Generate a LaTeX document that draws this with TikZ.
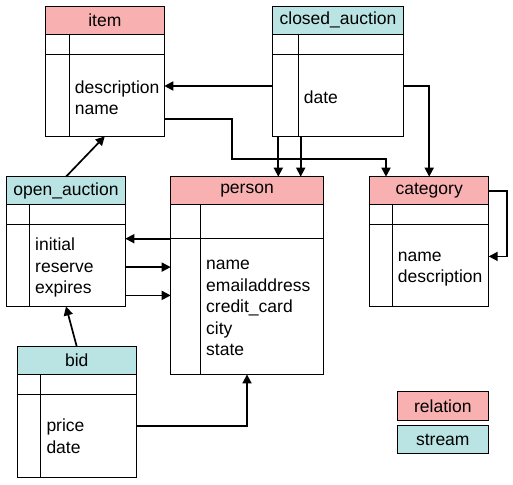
\documentclass[tikz,border=0pt]{standalone}
\usepackage{fontspec}
\setmainfont{Liberation Sans}
\usetikzlibrary{positioning,arrows.meta}

\definecolor{relfill}{RGB}{248,176,176}
\definecolor{strfill}{RGB}{186,228,228}
\newcommand{\tablefont}{\fontsize{17.5}{21.6}\selectfont}

\tikzset{
  head/.style={draw, line width=1pt, minimum height=28pt, inner sep=0pt, outer sep=0pt, anchor=north west, font=\tablefont},
  body/.style={draw, line width=1pt, inner sep=0pt, outer sep=0pt},
  fields/.style={anchor=west, align=left, inner sep=0pt, font=\tablefont},
  link/.style={line width=1.7pt, -{Triangle[length=9pt,width=9pt]}},
  legend/.style={draw, line width=1pt, minimum width=91pt, minimum height=28.6pt, inner sep=0pt, outer sep=0pt, font=\tablefont}
}

\begin{document}
\begin{tikzpicture}[x=1pt,y=-1pt,line width=1pt]

    \useasboundingbox (0,0) rectangle (513,484);

    % item
    \node[head, fill=relfill, minimum width=119pt] (item) at (45.3,6.3) {item};
    \node[body, minimum width=119pt, minimum height=102pt, below=0pt of item] (itembody) {};
    \draw ([yshift=-20pt]itembody.north west) -- ([yshift=-20pt]itembody.north east);
    \draw ([xshift=24.4pt]itembody.north west) -- ([xshift=24.4pt]itembody.south west);
    \node[fields] (itemfields) at ([xshift=29pt,yshift=-12.5pt]itembody.west) {description\\name};

    % closed_auction
    \node[head, fill=strfill, minimum width=131.4pt] (closed) at (272.3,6.3) {closed\_auction};
    \node[body, minimum width=131.4pt, minimum height=102pt, below=0pt of closed] (closedbody) {};
    \draw ([yshift=-20pt]closedbody.north west) -- ([yshift=-20pt]closedbody.north east);
    \draw ([xshift=26.4pt]closedbody.north west) -- ([xshift=26.4pt]closedbody.south west);
    \node[fields] (closedfields) at ([xshift=31pt,yshift=-11.5pt]closedbody.west) {date};

    % open_auction
    \node[head, fill=strfill, minimum width=118.6pt] (open) at (6.7,176.7) {open\_auction};
    \node[body, minimum width=118.6pt, minimum height=101.7pt, below=0pt of open] (openbody) {};
    \draw ([yshift=-20pt]openbody.north west) -- ([yshift=-20pt]openbody.north east);
    \draw ([xshift=23pt]openbody.north west) -- ([xshift=23pt]openbody.south west);
    \node[fields] (openfields) at ([xshift=28pt,yshift=-12pt]openbody.west) {initial\\reserve\\expires};

    % person
    \node[head, fill=relfill, minimum width=152.6pt] (person) at (170.7,176.7) {person};
    \node[body, minimum width=152.6pt, minimum height=169.7pt, below=0pt of person] (personbody) {};
    \draw ([yshift=-34pt]personbody.north west) -- ([yshift=-34pt]personbody.north east);
    \draw ([xshift=30pt]personbody.north west) -- ([xshift=30pt]personbody.south west);
    \node[fields] (personfields) at ([xshift=35pt,yshift=-18.5pt]personbody.west) {name\\emailaddress\\credit\_card\\city\\state};

    % category
    \node[head, fill=relfill, minimum width=119pt] (category) at (369.7,176.7) {category};
    \node[body, minimum width=119pt, minimum height=101.7pt, below=0pt of category] (categorybody) {};
    \draw ([yshift=-20pt]categorybody.north west) -- ([yshift=-20pt]categorybody.north east);
    \draw ([xshift=22.6pt]categorybody.north west) -- ([xshift=22.6pt]categorybody.south west);
    \node[fields] (categoryfields) at ([xshift=27.6pt,yshift=-13.5pt]categorybody.west) {name\\description};

    % bid
    \node[head, fill=strfill, minimum width=119pt] (bid) at (17.3,346.7) {bid};
    \node[body, minimum width=119pt, minimum height=102.4pt, below=0pt of bid] (bidbody) {};
    \draw ([yshift=-20pt]bidbody.north west) -- ([yshift=-20pt]bidbody.north east);
    \draw ([xshift=23.4pt]bidbody.north west) -- ([xshift=23.4pt]bidbody.south west);
    \node[fields] (bidfields) at ([xshift=28.7pt,yshift=-10.5pt]bidbody.west) {price\\date};

    % links
    \draw[link] ([yshift=-51.7pt]closedbody.north west) -- ([yshift=-51.7pt]itembody.north east);
    \draw[link] ([yshift=-51.7pt]closedbody.north east) -| (category.north);
    \draw[link] ([xshift=6pt]closedbody.south west) -- ([xshift=107.6pt]person.north west);
    \draw[link] ([xshift=28.4pt]closedbody.south west) -- ([xshift=130pt]person.north west);
    \draw[link] ([yshift=-85pt]itembody.north east) -| ++(68,39.7) -| ([xshift=16.3pt]category.north west);
    \draw[link] (open.north) -- (itembody.south);
    \draw[link] (category.east) -- ++(18,0) |- ([yshift=-51.7pt]categorybody.north east);
    \draw[link] ([yshift=-34pt]personbody.north west) -- ([yshift=-34pt]openbody.north east);
    \draw[link] ([yshift=-62.4pt]openbody.north east) -- ([yshift=-62.4pt]personbody.north west);
    \draw[link] ([yshift=-90.7pt]openbody.north east) -- ([yshift=-90.7pt]personbody.north west);
    \draw[link] (bid.north) -- (openbody.south);
    \draw[link] ([yshift=-51.4pt]bidbody.north east) -| (personbody.south);

    % legend
    \node[legend, fill=relfill] (relkey) at (442.8,406) {relation};
    \node[legend, fill=strfill, below=5pt of relkey] (strkey) {stream};

\end{tikzpicture}
\end{document}
